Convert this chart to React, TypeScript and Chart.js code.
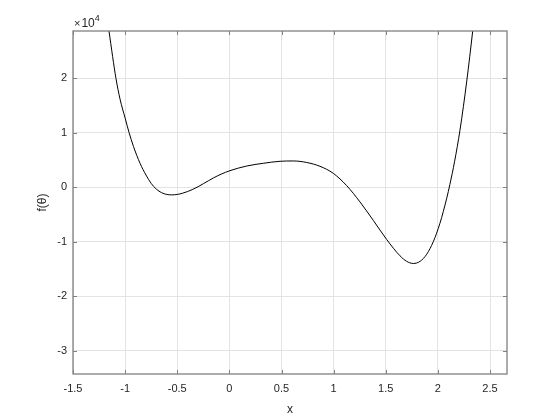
import React, { useEffect, useRef } from "react";
import { Chart, registerables } from "chart.js";

Chart.register(...registerables);

const xValues = [
  -1.2, -1.155, -1.12, -1.088, -1.049, -1.0, -0.963, -0.92, -0.857, -0.8, -0.75, -0.7,
  -0.65, -0.6, -0.555, -0.5, -0.45, -0.4, -0.35, -0.3, -0.25, -0.2, -0.154, -0.08,
  0.006, 0.166, 0.325, 0.486, 0.613, 0.741, 0.869, 0.997, 1.125, 1.253, 1.381, 1.509,
  1.637, 1.7, 1.764, 1.83, 1.893, 1.956, 2.02, 2.085, 2.115, 2.16, 2.212, 2.277, 2.334, 2.37,
];
const fValues = [
  34000, 28700, 24000, 20000, 16200, 12700, 10100, 7500, 4400, 2250, 700, -350,
  -1000, -1320, -1400, -1320, -1100, -780, -380, 100, 650, 1200, 1700, 2400,
  3050, 3900, 4400, 4770, 4830, 4550, 3850, 2550, 300, -2700, -6100, -9600,
  -12600, -13600, -14000, -13600, -12300, -10000, -6600, -2000, 500, 4700, 10500, 19500, 28700, 35000,
];

const xTicks = [-1.5, -1, -0.5, 0, 0.5, 1, 1.5, 2, 2.5];
const xTickLabels = ["-1.5", "-1", "-0.5", "0", "0.5", "1", "1.5", "2", "2.5"];
const yTicks = [-30000, -20000, -10000, 0, 10000, 20000];
const yTickLabels = ["-3", "-2", "-1", "0", "1", "2"];

const X_MIN = -1.5;
const X_MAX = 2.663;
const Y_MIN = -34300;
const Y_MAX = 28700;

const AXIS_COLOR = "#808080";
const TEXT_COLOR = "#262626";
const FONT = "Arial, 'Liberation Sans', Helvetica, sans-serif";

const boxPlugin = {
  id: "matlabBox",
  afterDraw(chart: any) {
    const { ctx, chartArea, scales } = chart;
    const { left, right, top, bottom } = chartArea;
    ctx.save();
    ctx.strokeStyle = AXIS_COLOR;
    ctx.lineWidth = 1.3;
    ctx.strokeRect(left, top, right - left, bottom - top);
    const tl = 4;
    ctx.lineWidth = 1;
    ctx.beginPath();
    for (const v of xTicks) {
      const px = Math.round(scales.x.getPixelForValue(v)) + 0.5;
      ctx.moveTo(px, bottom);
      ctx.lineTo(px, bottom - tl);
      ctx.moveTo(px, top);
      ctx.lineTo(px, top + tl);
    }
    for (const v of yTicks) {
      const py = Math.round(scales.y.getPixelForValue(v)) + 0.5;
      ctx.moveTo(left, py);
      ctx.lineTo(left + tl, py);
      ctx.moveTo(right, py);
      ctx.lineTo(right - tl, py);
    }
    ctx.stroke();
    // exponent label
    ctx.fillStyle = TEXT_COLOR;
    ctx.textBaseline = "alphabetic";
    ctx.textAlign = "left";
    ctx.font = `11px ${FONT}`;
    ctx.fillText("\u00d7", left + 1, top - 4);
    const w1 = ctx.measureText("\u00d7").width;
    ctx.font = `12px ${FONT}`;
    ctx.fillText("10", left + 1 + w1 + 1, top - 4);
    const w2 = ctx.measureText("10").width;
    ctx.font = `9px ${FONT}`;
    ctx.fillText("4", left + 2 + w1 + w2, top - 10);
    ctx.restore();
  },
};

export default function App() {
  const canvasRef = useRef<HTMLCanvasElement | null>(null);

  useEffect(() => {
    if (!canvasRef.current) return;
    const data = xValues.map((x, i) => ({ x, y: fValues[i] }));
    const chart = new Chart(canvasRef.current, {
      type: "line",
      data: {
        datasets: [
          {
            data,
            borderColor: "#000000",
            borderWidth: 1,
            pointRadius: 0,
            fill: false,
            cubicInterpolationMode: "monotone",
          },
        ],
      },
      options: {
        responsive: false,
        animation: false,
        events: [],
        layout: { padding: { left: 0, top: 31, right: 53, bottom: 0 } },
        plugins: { legend: { display: false }, tooltip: { enabled: false } },
        scales: {
          x: {
            type: "linear",
            min: X_MIN,
            max: X_MAX,
            afterBuildTicks: (scale: any) => {
              scale.ticks = xTicks.map((v) => ({ value: v }));
            },
            afterFit: (scale: any) => {
              scale.height = 46;
            },
            ticks: {
              autoSkip: false,
              maxRotation: 0,
              padding: 8,
              color: TEXT_COLOR,
              font: { family: FONT, size: 11 },
              callback: (v: any) => {
                const i = xTicks.indexOf(Number(v));
                return i >= 0 ? xTickLabels[i] : "";
              },
            },
            grid: { color: "#e3e3e3", drawTicks: false, lineWidth: 1 },
            border: { display: false },
            title: {
              display: true,
              text: "x",
              color: TEXT_COLOR,
              font: { family: FONT, size: 12 },
              padding: { top: 0, bottom: 3 },
            },
          },
          y: {
            type: "linear",
            min: Y_MIN,
            max: Y_MAX,
            afterBuildTicks: (scale: any) => {
              scale.ticks = yTicks.map((v) => ({ value: v }));
            },
            afterFit: (scale: any) => {
              scale.width = 73;
            },
            ticks: {
              autoSkip: false,
              padding: 6,
              color: TEXT_COLOR,
              font: { family: FONT, size: 11 },
              callback: (v: any) => {
                const i = yTicks.indexOf(Number(v));
                return i >= 0 ? yTickLabels[i] : "";
              },
            },
            grid: { color: "#e3e3e3", drawTicks: false, lineWidth: 1 },
            border: { display: false },
            title: {
              display: true,
              text: "f(\u03b8)",
              color: TEXT_COLOR,
              font: { family: FONT, size: 12 },
              padding: { top: 35, bottom: 0 },
            },
          },
        },
      },
      plugins: [boxPlugin],
    } as any);
    return () => chart.destroy();
  }, []);

  return (
    <div style={{ position: "absolute", left: 0, top: 0, width: 560, height: 420, background: "#fff" }}>
      <canvas ref={canvasRef} width={560} height={420} style={{ display: "block" }} />
    </div>
  );
}
